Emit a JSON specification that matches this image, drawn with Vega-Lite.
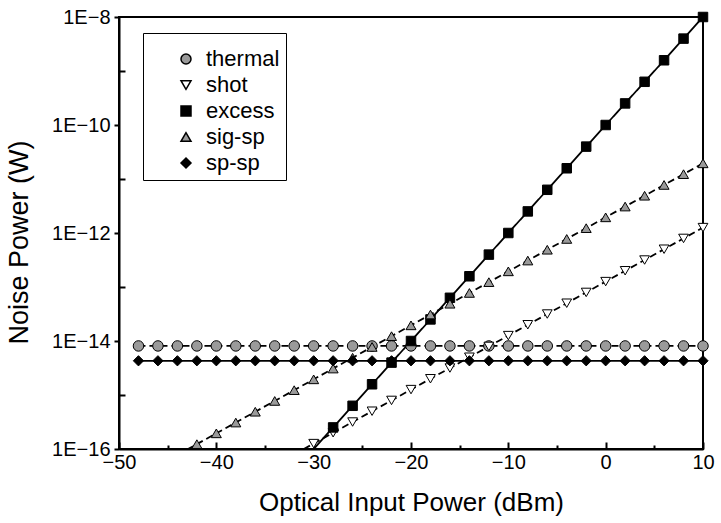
{
  "$schema": "https://vega.github.io/schema/vega-lite/v6.json",
  "width": 584,
  "height": 432,
  "autosize": {"type": "none"},
  "padding": {"left": 119, "top": 17, "right": 18, "bottom": 74},
  "background": "white",
  "config": {
    "view": {"stroke": "black", "strokeWidth": 2},
    "font": "Liberation Sans",
    "axis": {"domainColor": "black", "domainWidth": 2, "tickColor": "black", "labelColor": "black", "titleColor": "black", "grid": false, "labelFont": "Liberation Sans", "titleFont": "Liberation Sans", "labelFontSize": 20, "titleFontWeight": "normal", "labelFlush": false, "labelOverlap": false}
  },
  "data": {"values": [
    {"s": "thermal", "p": -48, "n": 8.1e-15}, {"s": "thermal", "p": -46, "n": 8.1e-15}, {"s": "thermal", "p": -44, "n": 8.1e-15}, {"s": "thermal", "p": -42, "n": 8.1e-15}, {"s": "thermal", "p": -40, "n": 8.1e-15}, {"s": "thermal", "p": -38, "n": 8.1e-15}, {"s": "thermal", "p": -36, "n": 8.1e-15}, {"s": "thermal", "p": -34, "n": 8.1e-15}, {"s": "thermal", "p": -32, "n": 8.1e-15}, {"s": "thermal", "p": -30, "n": 8.1e-15}, {"s": "thermal", "p": -28, "n": 8.1e-15}, {"s": "thermal", "p": -26, "n": 8.1e-15}, {"s": "thermal", "p": -24, "n": 8.1e-15}, {"s": "thermal", "p": -22, "n": 8.1e-15}, {"s": "thermal", "p": -20, "n": 8.1e-15}, {"s": "thermal", "p": -18, "n": 8.1e-15}, {"s": "thermal", "p": -16, "n": 8.1e-15}, {"s": "thermal", "p": -14, "n": 8.1e-15}, {"s": "thermal", "p": -12, "n": 8.1e-15}, {"s": "thermal", "p": -10, "n": 8.1e-15}, {"s": "thermal", "p": -8, "n": 8.1e-15}, {"s": "thermal", "p": -6, "n": 8.1e-15}, {"s": "thermal", "p": -4, "n": 8.1e-15}, {"s": "thermal", "p": -2, "n": 8.1e-15}, {"s": "thermal", "p": 0, "n": 8.1e-15}, {"s": "thermal", "p": 2, "n": 8.1e-15}, {"s": "thermal", "p": 4, "n": 8.1e-15}, {"s": "thermal", "p": 6, "n": 8.1e-15}, {"s": "thermal", "p": 8, "n": 8.1e-15}, {"s": "thermal", "p": 10, "n": 8.1e-15},
    {"s": "shot", "p": -32, "n": 7.94e-17}, {"s": "shot", "p": -30, "n": 1.26e-16}, {"s": "shot", "p": -28, "n": 2.0e-16}, {"s": "shot", "p": -26, "n": 3.16e-16}, {"s": "shot", "p": -24, "n": 5.01e-16}, {"s": "shot", "p": -22, "n": 7.94e-16}, {"s": "shot", "p": -20, "n": 1.26e-15}, {"s": "shot", "p": -18, "n": 2.0e-15}, {"s": "shot", "p": -16, "n": 3.16e-15}, {"s": "shot", "p": -14, "n": 5.01e-15}, {"s": "shot", "p": -12, "n": 7.94e-15}, {"s": "shot", "p": -10, "n": 1.26e-14}, {"s": "shot", "p": -8, "n": 2.0e-14}, {"s": "shot", "p": -6, "n": 3.16e-14}, {"s": "shot", "p": -4, "n": 5.01e-14}, {"s": "shot", "p": -2, "n": 7.94e-14}, {"s": "shot", "p": 0, "n": 1.26e-13}, {"s": "shot", "p": 2, "n": 2.0e-13}, {"s": "shot", "p": 4, "n": 3.16e-13}, {"s": "shot", "p": 6, "n": 5.01e-13}, {"s": "shot", "p": 8, "n": 7.94e-13}, {"s": "shot", "p": 10, "n": 1.26e-12},
    {"s": "excess", "p": -32, "n": 3.98e-17}, {"s": "excess", "p": -30, "n": 1.0e-16}, {"s": "excess", "p": -28, "n": 2.51e-16}, {"s": "excess", "p": -26, "n": 6.31e-16}, {"s": "excess", "p": -24, "n": 1.58e-15}, {"s": "excess", "p": -22, "n": 3.98e-15}, {"s": "excess", "p": -20, "n": 1.0e-14}, {"s": "excess", "p": -18, "n": 2.51e-14}, {"s": "excess", "p": -16, "n": 6.31e-14}, {"s": "excess", "p": -14, "n": 1.58e-13}, {"s": "excess", "p": -12, "n": 3.98e-13}, {"s": "excess", "p": -10, "n": 1.0e-12}, {"s": "excess", "p": -8, "n": 2.51e-12}, {"s": "excess", "p": -6, "n": 6.31e-12}, {"s": "excess", "p": -4, "n": 1.58e-11}, {"s": "excess", "p": -2, "n": 3.98e-11}, {"s": "excess", "p": 0, "n": 1.0e-10}, {"s": "excess", "p": 2, "n": 2.51e-10}, {"s": "excess", "p": 4, "n": 6.31e-10}, {"s": "excess", "p": 6, "n": 1.58e-9}, {"s": "excess", "p": 8, "n": 3.98e-9}, {"s": "excess", "p": 10, "n": 1.0e-8},
    {"s": "sig-sp", "p": -44, "n": 7.76e-17}, {"s": "sig-sp", "p": -42, "n": 1.23e-16}, {"s": "sig-sp", "p": -40, "n": 1.95e-16}, {"s": "sig-sp", "p": -38, "n": 3.09e-16}, {"s": "sig-sp", "p": -36, "n": 4.9e-16}, {"s": "sig-sp", "p": -34, "n": 7.76e-16}, {"s": "sig-sp", "p": -32, "n": 1.23e-15}, {"s": "sig-sp", "p": -30, "n": 1.95e-15}, {"s": "sig-sp", "p": -28, "n": 3.09e-15}, {"s": "sig-sp", "p": -26, "n": 4.9e-15}, {"s": "sig-sp", "p": -24, "n": 7.76e-15}, {"s": "sig-sp", "p": -22, "n": 1.23e-14}, {"s": "sig-sp", "p": -20, "n": 1.95e-14}, {"s": "sig-sp", "p": -18, "n": 3.09e-14}, {"s": "sig-sp", "p": -16, "n": 4.9e-14}, {"s": "sig-sp", "p": -14, "n": 7.76e-14}, {"s": "sig-sp", "p": -12, "n": 1.23e-13}, {"s": "sig-sp", "p": -10, "n": 1.95e-13}, {"s": "sig-sp", "p": -8, "n": 3.09e-13}, {"s": "sig-sp", "p": -6, "n": 4.9e-13}, {"s": "sig-sp", "p": -4, "n": 7.76e-13}, {"s": "sig-sp", "p": -2, "n": 1.23e-12}, {"s": "sig-sp", "p": 0, "n": 1.95e-12}, {"s": "sig-sp", "p": 2, "n": 3.09e-12}, {"s": "sig-sp", "p": 4, "n": 4.9e-12}, {"s": "sig-sp", "p": 6, "n": 7.76e-12}, {"s": "sig-sp", "p": 8, "n": 1.23e-11}, {"s": "sig-sp", "p": 10, "n": 1.95e-11},
    {"s": "sp-sp", "p": -48, "n": 4.3e-15}, {"s": "sp-sp", "p": -46, "n": 4.3e-15}, {"s": "sp-sp", "p": -44, "n": 4.3e-15}, {"s": "sp-sp", "p": -42, "n": 4.3e-15}, {"s": "sp-sp", "p": -40, "n": 4.3e-15}, {"s": "sp-sp", "p": -38, "n": 4.3e-15}, {"s": "sp-sp", "p": -36, "n": 4.3e-15}, {"s": "sp-sp", "p": -34, "n": 4.3e-15}, {"s": "sp-sp", "p": -32, "n": 4.3e-15}, {"s": "sp-sp", "p": -30, "n": 4.3e-15}, {"s": "sp-sp", "p": -28, "n": 4.3e-15}, {"s": "sp-sp", "p": -26, "n": 4.3e-15}, {"s": "sp-sp", "p": -24, "n": 4.3e-15}, {"s": "sp-sp", "p": -22, "n": 4.3e-15}, {"s": "sp-sp", "p": -20, "n": 4.3e-15}, {"s": "sp-sp", "p": -18, "n": 4.3e-15}, {"s": "sp-sp", "p": -16, "n": 4.3e-15}, {"s": "sp-sp", "p": -14, "n": 4.3e-15}, {"s": "sp-sp", "p": -12, "n": 4.3e-15}, {"s": "sp-sp", "p": -10, "n": 4.3e-15}, {"s": "sp-sp", "p": -8, "n": 4.3e-15}, {"s": "sp-sp", "p": -6, "n": 4.3e-15}, {"s": "sp-sp", "p": -4, "n": 4.3e-15}, {"s": "sp-sp", "p": -2, "n": 4.3e-15}, {"s": "sp-sp", "p": 0, "n": 4.3e-15}, {"s": "sp-sp", "p": 2, "n": 4.3e-15}, {"s": "sp-sp", "p": 4, "n": 4.3e-15}, {"s": "sp-sp", "p": 6, "n": 4.3e-15}, {"s": "sp-sp", "p": 8, "n": 4.3e-15}, {"s": "sp-sp", "p": 10, "n": 4.3e-15}
  ]},
  "layer": [
    {
      "mark": {"type": "line", "clip": true, "strokeWidth": 1.8, "color": "black"},
      "encoding": {
        "x": {"field": "p", "type": "quantitative", "scale": {"domain": [-50, 10], "nice": false, "zero": false},
          "axis": {"orient": "bottom", "title": "Optical Input Power (dBm)", "values": [-50, -40, -30, -20, -10, 0, 10], "ticks": false, "labelPadding": 3, "labelExpr": "replace(datum.label, '-', '−')", "titleFontSize": 26, "titlePadding": 17}},
        "y": {"field": "n", "type": "quantitative", "scale": {"type": "log", "domain": [1e-16, 1e-8], "nice": false},
          "axis": {"orient": "left", "title": "Noise Power (W)", "values": [1e-16, 1e-14, 1e-12, 1e-10, 1e-8], "labelExpr": "'1E−' + round(-log(datum.value)/LN10)", "tickSize": 5, "tickWidth": 2, "labelPadding": 4, "titleFontSize": 27, "titlePadding": 18, "titleY": 225}},
        "strokeDash": {"field": "s", "type": "nominal", "scale": {"range": [[1, 0], [7, 4], [7, 4], [1, 0], [7, 4]]}, "legend": null}
      }
    },
    {
      "transform": [{"filter": "datum.n > 1.05e-16"}],
      "mark": {"type": "point", "filled": true, "stroke": "black", "strokeWidth": 1, "opacity": 1},
      "encoding": {
        "x": {"field": "p", "type": "quantitative", "axis": {"orient": "bottom", "values": [-50, -40, -30, -20, -10, 0, 10], "labels": false, "domain": false, "title": null, "tickSize": -7, "tickWidth": 2}},
        "y": {"field": "n", "type": "quantitative", "axis": {"orient": "left", "values": [1e-15, 1e-13, 1e-11, 1e-9], "labels": false, "domain": false, "title": null, "tickSize": -6, "tickWidth": 2}},
        "size": {"field": "s", "type": "nominal", "scale": {"range": [90, 110, 110, 140, 80]}, "legend": null},
        "shape": {"field": "s", "type": "nominal", "scale": {"domain": ["thermal", "shot", "excess", "sig-sp", "sp-sp"], "range": ["circle", "triangle-down", "square", "triangle-up", "diamond"]},
          "legend": {"title": " ", "titleFontSize": 5, "titlePadding": 4, "orient": "none", "legendX": 24, "legendY": 16, "padding": 6, "strokeColor": "black", "symbolSize": 100, "symbolOffset": 26, "labelOffset": 9, "rowPadding": 4, "labelFontSize": 22, "labelFont": "Liberation Sans", "labelColor": "black",
            "encode": {"legend": {"strokeWidth": {"value": 1.5}}, "symbols": {"stroke": {"value": "black"}, "strokeWidth": {"value": 1.2}}}}},
        "fill": {"field": "s", "type": "nominal", "scale": {"domain": ["thermal", "shot", "excess", "sig-sp", "sp-sp"], "range": ["#9a9a9a", "white", "black", "#9a9a9a", "black"]},
          "legend": {"title": " ", "titleFontSize": 5, "titlePadding": 4, "orient": "none", "legendX": 24, "legendY": 16, "padding": 6, "strokeColor": "black", "symbolSize": 100, "symbolOffset": 26, "labelOffset": 9, "rowPadding": 4, "labelFontSize": 22, "labelFont": "Liberation Sans", "labelColor": "black",
            "encode": {"legend": {"strokeWidth": {"value": 1.5}}, "symbols": {"stroke": {"value": "black"}, "strokeWidth": {"value": 1.2}}}}}
      }
    },
    {
      "mark": {"type": "point", "opacity": 0},
      "encoding": {
        "x": {"field": "p", "type": "quantitative", "axis": {"orient": "bottom", "values": [-45, -35, -25, -15, -5, 5], "labels": false, "domain": false, "title": null, "tickSize": -4, "tickWidth": 2}},
        "y": {"field": "n", "type": "quantitative", "axis": null}
      }
    }
  ],
  "resolve": {"axis": {"x": "independent", "y": "independent"}}
}
